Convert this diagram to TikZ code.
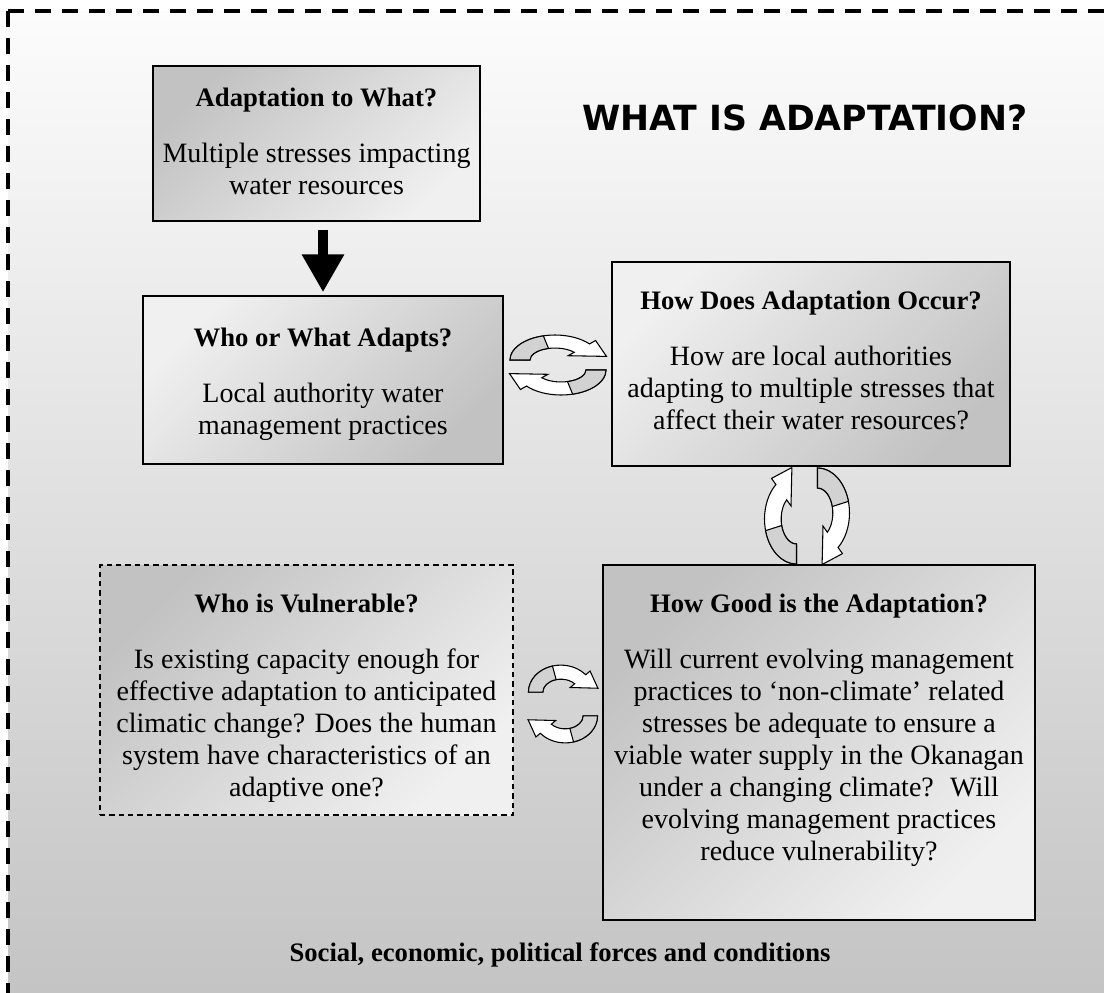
\documentclass[tikz,border=0pt]{standalone}
\usepackage{fontspec}
\setmainfont{Liberation Serif}
\newfontfamily\headfont{DejaVu Sans}
\usetikzlibrary{positioning,arrows.meta,calc}
\definecolor{bgtop}{HTML}{FCFCFC}
\definecolor{bgbot}{HTML}{C4C4C4}
\definecolor{boxdark}{HTML}{C2C2C2}
\definecolor{boxlight}{HTML}{F0F0F0}
\definecolor{ribbon}{HTML}{D2D2D2}
\newcommand{\boxhead}[1]{{\bfseries\fontsize{20}{24}\selectfont #1}}
% one half of a circular arrow pair, drawn round the pair centre
\newcommand{\turnhalf}{%
  \filldraw[fill=white,line width=0.8pt] (-48,-5) arc[start angle=180,end angle=320,x radius=45,y radius=25]
    -- (37.6,-24.5) -- (48.5,-8.6) -- (10.1,-9.3) -- (16.2,-12.7)
    arc[start angle=320,end angle=180,x radius=25,y radius=12] -- cycle;
  \filldraw[fill=ribbon,line width=0.8pt] (-48,-5) arc[start angle=180,end angle=255,x radius=45,y radius=25]
    -- (-9.5,-16.6) arc[start angle=255,end angle=180,x radius=25,y radius=12] -- cycle;}
% the pair; the argument pulls the halves apart
\newcommand{\turnpair}[1]{%
  \begin{scope}[yshift=#1*0.75pt]\turnhalf\end{scope}
  \begin{scope}[rotate=180,yshift=#1*0.75pt]\turnhalf\end{scope}}
\begin{document}
\begin{tikzpicture}[x=0.75pt,y=-0.75pt,
  box/.style={draw=black,line width=1.1pt,align=center,inner sep=0pt,anchor=base,font=\fontsize{21}{24}\selectfont},
  darkbox/.style={box,top color=boxdark,bottom color=boxlight,shading angle=45},
  lightbox/.style={box,top color=boxlight,bottom color=boxdark,shading angle=45},
  bigarrow/.style={line width=7.5pt,-{Triangle[length=28.5pt,width=30pt]}},
  frame/.style={line width=2.6pt,dash pattern=on 12pt off 8.25pt}]
\useasboundingbox (0,0) rectangle (1104,993);
% background and frame
\shade[top color=bgtop,bottom color=bgbot] (8,11) rectangle (1104,993);
\draw[frame] (8,11) -- (1104,11);
\draw[frame] (8,11) -- (8,993);
\node[anchor=base east,font=\headfont\bfseries\fontsize{26}{30}\selectfont] (title) at (1032,130) {WHAT IS ADAPTATION?};
% boxes (anchored below their last line)
\node[darkbox,minimum width=245.25pt,text height=96pt,text depth=20.25pt] (ask) at (316.5,194)
  {\boxhead{Adaptation to What?}\\[18pt]Multiple stresses impacting\\water resources};
\node[lightbox,minimum width=270pt,text height=103.5pt,text depth=22.5pt] (adapts) at (323,434)
  {\boxhead{Who or What Adapts?}\\[18pt]Local authority water\\management practices};
\node[lightbox,minimum width=298.5pt,text height=125.25pt,text depth=27.75pt] (occur) at (811,429)
  {\boxhead{How Does Adaptation Occur?}\\[18pt]How are local authorities\\adapting to multiple stresses that\\affect their water resources?};
\node[darkbox,minimum width=324pt,text height=221.25pt,text depth=45pt] (good) at (819,860)
  {\boxhead{How Good is the Adaptation?}\\[18pt]Will current evolving management\\practices to ‘non-climate’ related\\stresses be adequate to ensure a\\viable water supply in the Okanagan\\under a changing climate?~ Will\\evolving management practices\\reduce vulnerability?};
\node[darkbox,line width=0.9pt,dash pattern=on 4pt off 3pt,minimum width=309.75pt,text height=173.25pt,text depth=14.25pt] (vuln) at (306.5,796)
  {\boxhead{Who is Vulnerable?}\\[18pt]Is existing capacity enough for\\effective adaptation to anticipated\\climatic change? Does the human\\system have characteristics of an\\adaptive one?};
\node[anchor=base,font=\bfseries\fontsize{20}{24}\selectfont] (forces) at (560,961) {Social, economic, political forces and conditions};
% arrows
\draw[bigarrow,shorten <=6pt,shorten >=2.25pt] (ask.south -| adapts.north) -- (adapts.north);
\begin{scope}[shift={(558,365)}]\turnpair{0}\end{scope}
\begin{scope}[shift={(807,516)},rotate=-90,yscale=1.28]\turnpair{3.2}\end{scope}
\begin{scope}[shift={(563,704)},xscale=0.72,yscale=1.08]\turnpair{6}\end{scope}
\end{tikzpicture}
\end{document}
